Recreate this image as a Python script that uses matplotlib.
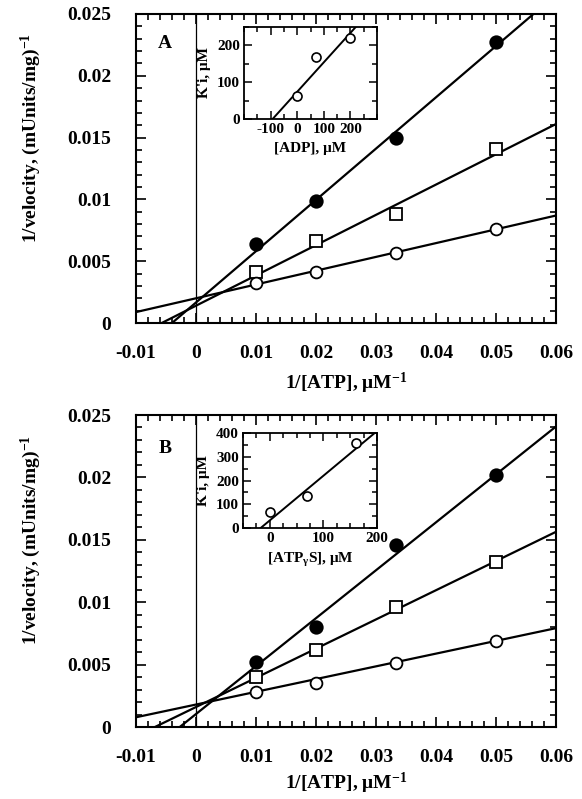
import numpy as np
import matplotlib
matplotlib.use("Agg")
import matplotlib.pyplot as plt
from matplotlib.ticker import MultipleLocator, FixedLocator

plt.rcParams['font.family'] = ['Liberation Serif', 'DejaVu Serif']
plt.rcParams['font.weight'] = 'bold'
plt.rcParams['axes.labelweight'] = 'bold'
plt.rcParams['mathtext.fontset'] = 'custom'
plt.rcParams['mathtext.rm'] = 'Liberation Serif:bold'
plt.rcParams['mathtext.it'] = 'Liberation Serif:bold'
plt.rcParams['mathtext.bf'] = 'Liberation Serif:bold'
plt.rcParams['axes.unicode_minus'] = False

# ---- data ----
inv_atp = [0.01, 0.02, 0.0333, 0.05]

a_filled = [0.0064, 0.0099, 0.0150, 0.0227]
a_square = [0.0041, 0.0066, 0.0088, 0.0141]
a_open = [0.0032, 0.0041, 0.0057, 0.0076]
a_slopes = [0.415, 0.245, 0.1116]
a_intercepts = [0.00166, 0.0014, 0.0020]

b_filled = [0.0052, 0.0080, 0.0146, 0.0202]
b_square = [0.0040, 0.0062, 0.0096, 0.0132]
b_open = [0.0028, 0.0035, 0.0051, 0.0069]
b_slopes = [0.384, 0.234, 0.102]
b_intercepts = [0.00104, 0.0016, 0.0018]

adp = [0, 70, 200]
adp_ki = [62, 168, 220]
adp_fit = (0.80, 74)

atpgs = [0, 70, 160]
atpgs_ki = [68, 133, 360]
atpgs_fit = (1.88, 32)

x_ticks = [-0.01, 0, 0.01, 0.02, 0.03, 0.04, 0.05, 0.06]
x_ticklabels = ['-0.01', '0', '0.01', '0.02', '0.03', '0.04', '0.05', '0.06']
y_ticks = [0, 0.005, 0.01, 0.015, 0.02, 0.025]
y_ticklabels = ['0', '0.005', '0.01', '0.015', '0.02', '0.025']

W, H = 582, 799
fig = plt.figure(figsize=(W / 100, H / 100), dpi=100)


def frac(l, t, r, b):
    return [l / W, 1 - b / H, (r - l) / W, (b - t) / H]


def style_main(ax, xlabel_y):
    ax.set_xlim(-0.01, 0.06)
    ax.set_ylim(0, 0.025)
    ax.xaxis.set_major_locator(FixedLocator(x_ticks))
    ax.set_xticklabels(x_ticklabels)
    ax.yaxis.set_major_locator(FixedLocator(y_ticks))
    ax.set_yticklabels(y_ticklabels)
    ax.xaxis.set_minor_locator(MultipleLocator(0.002))
    ax.yaxis.set_minor_locator(MultipleLocator(0.001))
    ax.tick_params(which='both', direction='in', top=True, right=True, width=1.2)
    ax.tick_params(which='major', length=7, labelsize=14)
    ax.tick_params(which='minor', length=4)
    ax.tick_params(axis='x', which='major', pad=16)
    ax.tick_params(axis='y', which='major', pad=18)
    for s in ax.spines.values():
        s.set_linewidth(1.5)
    ax.axvline(0, color='black', lw=0.9)
    ax.set_xlabel('1/[ATP], μM$^{-1}$', fontsize=14)
    ax.set_ylabel('1/velocity, (mUnits/mg)$^{-1}$', fontsize=14)
    ax.xaxis.set_label_coords(0.5, xlabel_y)
    ax.yaxis.set_label_coords(-0.222, 0.6)


def draw_main(ax, filled, square, opn, slopes, intercepts):
    xs = np.array([-0.01, 0.06])
    for m, b in zip(slopes, intercepts):
        ax.plot(xs, m * xs + b, color='black', lw=1.6, zorder=2)
    kw = dict(linestyle='none', markeredgecolor='black', markeredgewidth=1.3, zorder=3)
    ax.plot(inv_atp, filled, marker='o', markersize=9, markerfacecolor='black', **kw)
    ax.plot(inv_atp, square, marker='s', markersize=8.5, markerfacecolor='white', **kw)
    ax.plot(inv_atp, opn, marker='o', markersize=8.5, markerfacecolor='white', **kw)


def style_inset(ax, xlim, ylim, xmaj, xmin, ymaj, ymin, xlabel):
    ax.set_xlim(*xlim)
    ax.set_ylim(*ylim)
    ax.xaxis.set_major_locator(FixedLocator(xmaj))
    ax.xaxis.set_minor_locator(MultipleLocator(xmin))
    ax.yaxis.set_major_locator(FixedLocator(ymaj))
    ax.yaxis.set_minor_locator(MultipleLocator(ymin))
    ax.tick_params(which='both', direction='in', top=True, right=True, width=1.1)
    ax.tick_params(which='major', length=6, labelsize=11, pad=3)
    ax.tick_params(which='minor', length=3.5)
    for s in ax.spines.values():
        s.set_linewidth(1.3)
    ax.set_xlabel(xlabel, fontsize=11)
    ax.set_ylabel("K'i, μM", fontsize=11)


# ---- Panel A ----
axA = fig.add_axes(frac(136, 14, 556, 323))
style_main(axA, -0.155)
draw_main(axA, a_filled, a_square, a_open, a_slopes, a_intercepts)
axA.text(0.069, 0.906, 'A', transform=axA.transAxes, fontsize=14, ha='center', va='center')

insA = fig.add_axes(frac(244, 27, 377, 119))
style_inset(insA, (-200, 300), (0, 250), [-100, 0, 100, 200], 50, [0, 100, 200], 50, '[ADP], μM')
xi = np.array([-200, 300])
insA.plot(xi, adp_fit[0] * xi + adp_fit[1], color='black', lw=1.4)
insA.plot(adp, adp_ki, linestyle='none', marker='o', markersize=6.5, markerfacecolor='white',
          markeredgecolor='black', markeredgewidth=1.2)
insA.yaxis.set_label_coords(-0.25, 0.5)
insA.xaxis.set_label_coords(0.5, -0.25)

# ---- Panel B ----
axB = fig.add_axes(frac(136, 415, 556, 727))
style_main(axB, -0.14)
draw_main(axB, b_filled, b_square, b_open, b_slopes, b_intercepts)
axB.text(0.069, 0.894, 'B', transform=axB.transAxes, fontsize=14, ha='center', va='center')

insB = fig.add_axes(frac(243, 433, 377, 528))
style_inset(insB, (-50, 200), (0, 400), [0, 100, 200], 25, [0, 100, 200, 300, 400], 50,
            '[ATP$_{γ}$S], μM')
xi = np.array([-50, 200])
insB.plot(xi, atpgs_fit[0] * xi + atpgs_fit[1], color='black', lw=1.4)
insB.plot(atpgs, atpgs_ki, linestyle='none', marker='o', markersize=6.5, markerfacecolor='white',
          markeredgecolor='black', markeredgewidth=1.2)
insB.yaxis.set_label_coords(-0.25, 0.5)
insB.xaxis.set_label_coords(0.5, -0.24)

fig.savefig('out.png', dpi=100)
